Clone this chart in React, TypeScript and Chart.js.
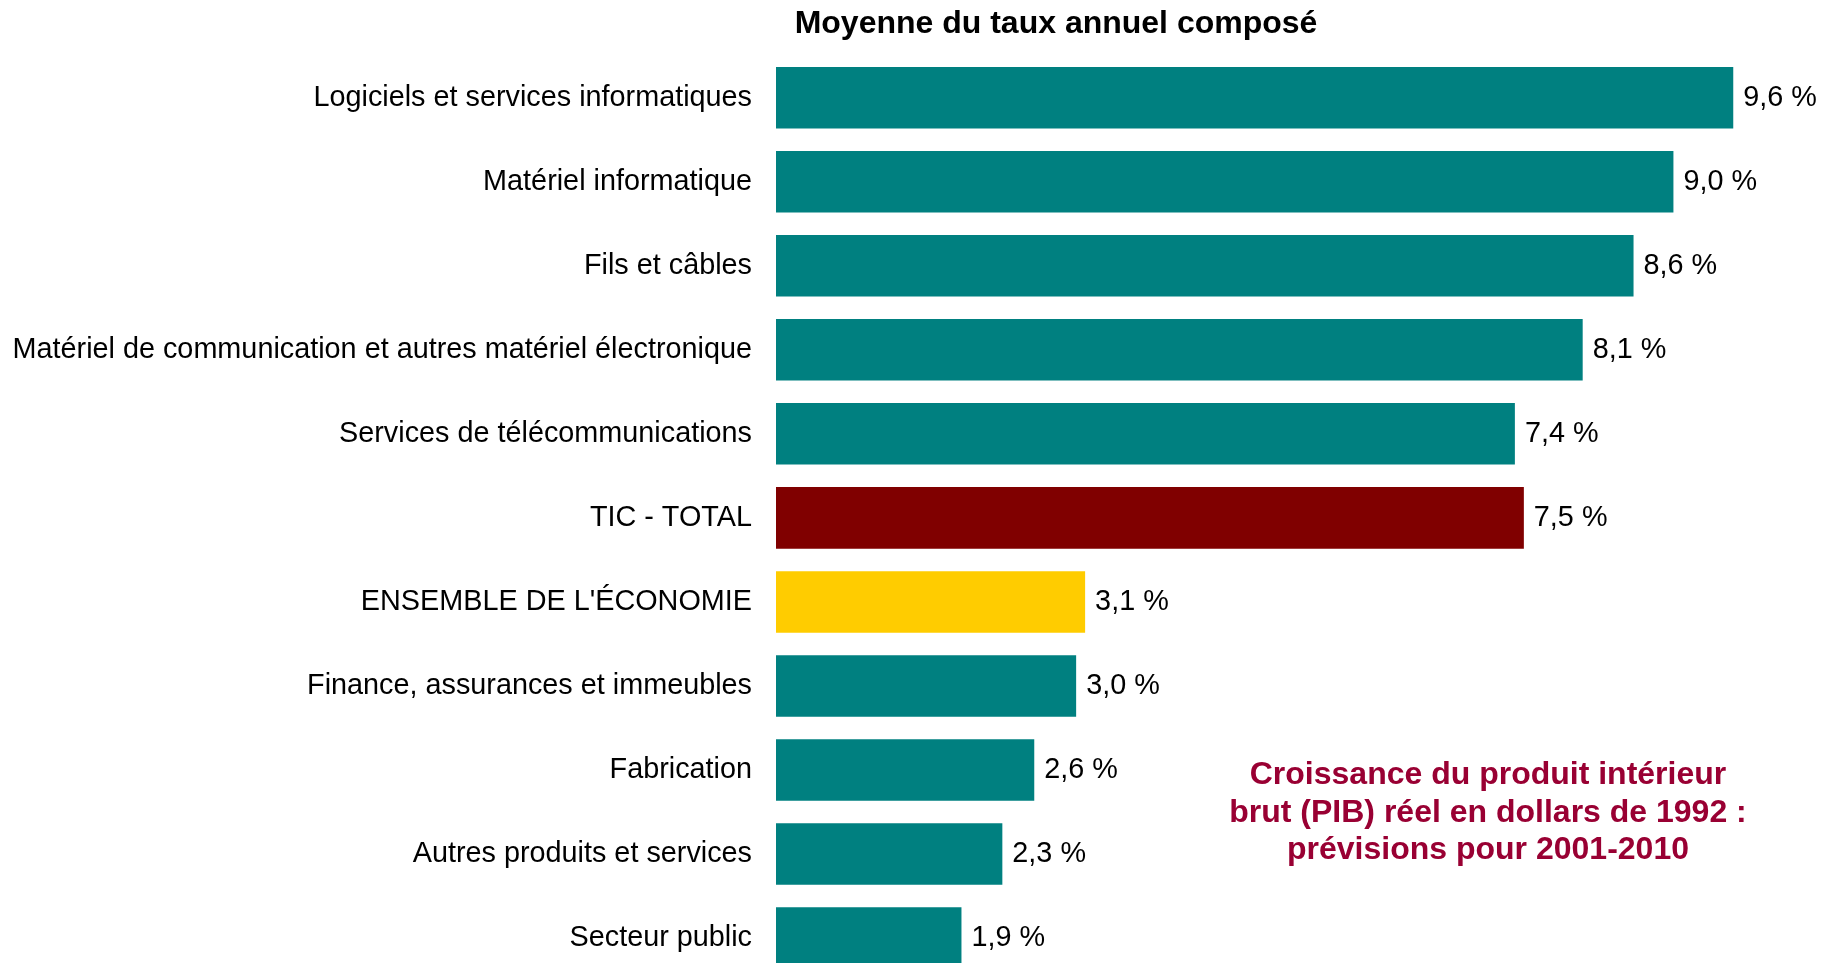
import React, { useEffect, useRef } from "react";
import { Chart, registerables } from "chart.js";

Chart.register(...registerables);

const categories = [
  "Logiciels et services informatiques",
  "Matériel informatique",
  "Fils et câbles",
  "Matériel de communication et autres matériel électronique",
  "Services de télécommunications",
  "TIC - TOTAL",
  "ENSEMBLE DE L'ÉCONOMIE",
  "Finance, assurances et immeubles",
  "Fabrication",
  "Autres produits et services",
  "Secteur public",
];

// bar lengths (labels show the rounded values)
const values = [9.6, 9.0, 8.6, 8.09, 7.41, 7.5, 3.1, 3.01, 2.59, 2.27, 1.86];

const TEAL = "#008080";
const barColors = [TEAL, TEAL, TEAL, TEAL, TEAL, "#800000", "#FFCC00", TEAL, TEAL, TEAL, TEAL];

const valueLabels = ["9,6 %", "9,0 %", "8,6 %", "8,1 %", "7,4 %", "7,5 %", "3,1 %", "3,0 %", "2,6 %", "2,3 %", "1,9 %"];

const chartTitle = "Moyenne du taux annuel composé";

const noteLines = [
  "Croissance du produit intérieur",
  "brut (PIB) réel en dollars de 1992 :",
  "prévisions pour 2001-2010",
];

const FONT = '"Liberation Sans", Arial, Helvetica, sans-serif';

const textPlugin = {
  id: "textPlugin",
  afterDatasetsDraw(chart: any) {
    const ctx = chart.ctx;
    const meta = chart.getDatasetMeta(0);
    ctx.save();
    ctx.fillStyle = "#000000";
    ctx.font = `28.8px ${FONT}`;
    ctx.textAlign = "left";
    ctx.textBaseline = "middle";
    meta.data.forEach((bar: any, i: number) => {
      ctx.fillText(valueLabels[i], bar.x + 10, bar.y);
    });

    ctx.font = `bold 32px ${FONT}`;
    ctx.textAlign = "center";
    ctx.textBaseline = "alphabetic";
    ctx.fillText(chartTitle, 1056, 33);

    ctx.fillStyle = "#990033";
    noteLines.forEach((line, i) => {
      ctx.fillText(line, 1488, 784 + i * 37.5);
    });
    ctx.restore();
  },
};

export default function App() {
  const canvasRef = useRef<HTMLCanvasElement | null>(null);

  useEffect(() => {
    if (!canvasRef.current) return;
    const chart = new Chart(canvasRef.current, {
      type: "bar",
      data: {
        labels: categories,
        datasets: [
          {
            data: values,
            backgroundColor: barColors,
            borderWidth: 0,
            categoryPercentage: 1,
            barPercentage: 0.732,
          },
        ],
      },
      options: {
        indexAxis: "y",
        animation: false,
        responsive: false,
        layout: { padding: { top: 55.75, right: 12, bottom: 0, left: 0 } },
        plugins: {
          legend: { display: false },
          tooltip: { enabled: false },
          title: { display: false },
        },
        scales: {
          x: {
            display: false,
            min: 0,
            max: 10.5,
          },
          y: {
            grid: { display: false, drawTicks: false },
            border: { display: false },
            ticks: {
              color: "#000000",
              padding: 24,
              font: { family: FONT, size: 28.8 },
            },
            afterFit: (scale: any) => {
              scale.width = 776;
              scale.paddingTop = 0;
              scale.paddingBottom = 0;
            },
          },
        },
      },
      plugins: [textPlugin],
    });
    return () => chart.destroy();
  }, []);

  return (
    <div
      style={{
        position: "fixed",
        left: 0,
        top: 0,
        width: 1835,
        height: 963,
        overflow: "hidden",
        background: "#ffffff",
      }}
    >
      <canvas ref={canvasRef} width={1835} height={980} style={{ display: "block" }} />
    </div>
  );
}
